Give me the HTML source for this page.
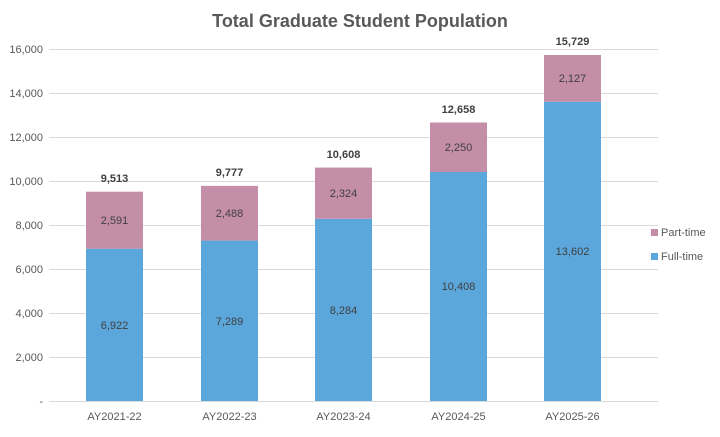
<!DOCTYPE html><html><head><style>body{margin:0;background:#fff}svg{font-family:"Liberation Sans",sans-serif}</style></head><body>
<svg width="720" height="432" xmlns="http://www.w3.org/2000/svg">
<rect width="720" height="432" fill="#fff"/>
<text x="360" y="27" text-anchor="middle" font-size="18" font-weight="bold" fill="#595959">Total Graduate Student Population</text>
<g stroke="#d9d9d9" stroke-width="1">
<line x1="49" x2="658" y1="401.5" y2="401.5"/><line x1="49" x2="658" y1="357.5" y2="357.5"/><line x1="49" x2="658" y1="313.5" y2="313.5"/><line x1="49" x2="658" y1="269.5" y2="269.5"/><line x1="49" x2="658" y1="225.5" y2="225.5"/><line x1="49" x2="658" y1="181.5" y2="181.5"/><line x1="49" x2="658" y1="137.5" y2="137.5"/><line x1="49" x2="658" y1="93.5" y2="93.5"/><line x1="49" x2="658" y1="49.5" y2="49.5"/>
</g>
<g font-size="11" fill="#595959" text-anchor="end">
<text x="43" y="405">-</text><text x="43" y="361">2,000</text><text x="43" y="317">4,000</text><text x="43" y="273">6,000</text><text x="43" y="229">8,000</text><text x="43" y="185">10,000</text><text x="43" y="141">12,000</text><text x="43" y="97">14,000</text><text x="43" y="53">16,000</text>
</g>
<g>
<rect x="86" y="248.7" width="57" height="152.3" fill="#5ba7dc"/><rect x="86" y="191.7" width="57" height="57" fill="#c48ea9"/>
<rect x="201" y="240.6" width="57" height="160.4" fill="#5ba7dc"/><rect x="201" y="185.9" width="57" height="54.7" fill="#c48ea9"/>
<rect x="315" y="218.8" width="57" height="182.2" fill="#5ba7dc"/><rect x="315" y="167.6" width="57" height="51.2" fill="#c48ea9"/>
<rect x="430" y="172" width="57" height="229" fill="#5ba7dc"/><rect x="430" y="122.5" width="57" height="49.5" fill="#c48ea9"/>
<rect x="544" y="101.8" width="57" height="299.2" fill="#5ba7dc"/><rect x="544" y="55" width="57" height="46.8" fill="#c48ea9"/>
</g>
<g font-size="11" fill="#404040" text-anchor="middle">
<text x="114.5" y="329">6,922</text><text x="114.5" y="224">2,591</text><text x="114.5" y="182" font-weight="bold">9,513</text>
<text x="229.5" y="325">7,289</text><text x="229.5" y="217">2,488</text><text x="229.5" y="176" font-weight="bold">9,777</text>
<text x="343.5" y="314">8,284</text><text x="343.5" y="197">2,324</text><text x="343.5" y="158" font-weight="bold">10,608</text>
<text x="458.5" y="290">10,408</text><text x="458.5" y="151">2,250</text><text x="458.5" y="113" font-weight="bold">12,658</text>
<text x="572.5" y="255">13,602</text><text x="572.5" y="82">2,127</text><text x="572.5" y="45" font-weight="bold">15,729</text>
</g>
<g font-size="11" fill="#595959" text-anchor="middle">
<text x="114.5" y="420">AY2021-22</text><text x="229.5" y="420">AY2022-23</text><text x="343.5" y="420">AY2023-24</text><text x="458.5" y="420">AY2024-25</text><text x="572.5" y="420">AY2025-26</text>
</g>
<rect x="651" y="229" width="7" height="7" fill="#c48ea9"/><text x="661" y="236" font-size="11" fill="#595959">Part-time</text>
<rect x="651" y="253" width="7" height="7" fill="#5ba7dc"/><text x="661" y="260" font-size="11" fill="#595959">Full-time</text>
</svg></body></html>
